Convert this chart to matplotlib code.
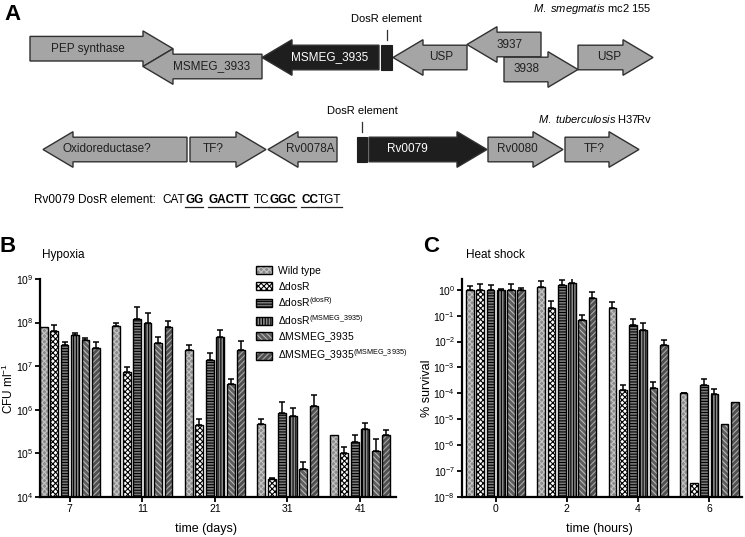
import numpy as np
import matplotlib
matplotlib.use('Agg')
import matplotlib.pyplot as plt
from matplotlib.patches import Polygon, Rectangle
from matplotlib.legend_handler import HandlerTuple
from matplotlib.ticker import LogLocator, NullLocator

plt.rcParams['font.family'] = ['Liberation Sans', 'DejaVu Sans']
plt.rcParams['mathtext.fontset'] = 'custom'
plt.rcParams['mathtext.rm'] = 'Liberation Sans'
plt.rcParams['mathtext.it'] = 'Liberation Sans:italic'
plt.rcParams['mathtext.bf'] = 'Liberation Sans:bold'
plt.rcParams['hatch.linewidth'] = 0.8

# ---------------- panel A data (gene maps, pixel-like units) ----------------
smeg_genes = ['PEP synthase', 'MSMEG_3933', 'MSMEG_3935', 'USP', '3937', '3938', 'USP']
smeg_start = [30, 143, 262, 393, 467, 504, 578]
smeg_end = [173, 262, 379, 467, 541, 578, 653]
smeg_strand = [1, -1, -1, -1, -1, 1, 1]
smeg_row = [48.7, 66.5, 57.5, 57.5, 44.5, 69.5, 57.5]
smeg_dark = [False, False, True, False, False, False, False]
smeg_label_x = [88, 212, 330, 441, 510, 527, 609]
smeg_box = (381, 392, 57.5)

tb_genes = ['Oxidoreductase?', 'TF?', 'Rv0078A', 'Rv0079', 'Rv0080', 'TF?']
tb_start = [43, 190, 268, 369, 488, 565]
tb_end = [187, 266, 337, 487, 563, 639]
tb_strand = [-1, 1, -1, 1, 1, 1]
tb_row = 149.5
tb_dark = [False, False, False, True, False, False]
tb_label_x = [107, 213, 310, 407, 517, 594]
tb_box = (357, 367, 149.5)

# sequence pieces: text, bold, underlined
seq_pieces = [('CAT', False, False), ('GG', True, True), (' ', False, False),
              ('GACTT', True, True), (' ', False, False),
              ('TC', False, True), ('GGC', True, True), (' ', False, False),
              ('CC', True, True), ('TGT', False, True)]

# ---------------- panel B data: hypoxia ----------------
strains = ['Wild type', r'$\Delta$dosR', r'$\Delta$dosR$^{\mathrm{(dosR)}}$',
           r'$\Delta$dosR$^{\mathrm{(MSMEG\_3935)}}$', r'$\Delta$MSMEG_3935',
           r'$\Delta$MSMEG_3935$^{\mathrm{(MSMEG\_3935)}}$']
days = ['7', '11', '21', '31', '41']
hyp_wt = [8.1e7, 8.3e7, 2.3e7, 4.8e5, 2.7e5]
hyp_dosr = [6.5e7, 7.2e6, 4.6e5, 2.6e4, 1.0e5]
hyp_dosr_c = [3.1e7, 1.2e8, 1.4e7, 8.3e5, 1.8e5]
hyp_dosr_ms = [5.2e7, 1.0e8, 4.7e7, 7.1e5, 3.6e5]
hyp_ms = [4.0e7, 3.4e7, 4.0e6, 4.5e4, 1.15e5]
hyp_ms_c = [2.6e7, 7.8e7, 2.3e7, 1.2e6, 2.6e5]
# top of the error bar (nan = none drawn)
hyp_wt_top = [np.nan, 9.8e7, 3.0e7, 6.2e5, np.nan]
hyp_dosr_top = [8.7e7, 9.8e6, 6.2e5, 2.8e4, 1.4e5]
hyp_dosr_c_top = [3.5e7, 2.3e8, 2.0e7, 1.5e6, 2.7e5]
hyp_dosr_ms_top = [5.9e7, 1.7e8, 6.6e7, 1.1e6, 5.1e5]
hyp_ms_top = [4.5e7, 4.6e7, 5.1e6, 6.3e4, 2.1e5]
hyp_ms_c_top = [3.5e7, 1.07e8, 3.8e7, 2.2e6, 3.4e5]

# ---------------- panel C data: heat shock ----------------
hours = ['0', '2', '4', '6']
hs_wt = [1.0, 1.26, 0.2, 1.0e-4]
hs_dosr = [1.0, 0.19, 1.35e-4, 3.5e-8]
hs_dosr_c = [1.0, 1.5, 0.043, 2.1e-4]
hs_dosr_ms = [1.0, 1.9, 0.028, 9.4e-5]
hs_ms = [1.0, 0.069, 1.6e-4, 6.5e-6]
hs_ms_c = [1.0, 0.46, 7.4e-3, 4.8e-5]
hs_wt_top = [1.41, 2.24, 0.35, 1.05e-4]
hs_dosr_top = [1.66, 0.37, 2.2e-4, np.nan]
hs_dosr_c_top = [1.48, 2.3, 0.074, 3.5e-4]
hs_dosr_ms_top = [1.07, 2.8, 0.051, 1.5e-4]
hs_ms_top = [1.66, 0.107, 2.8e-4, np.nan]
hs_ms_c_top = [1.16, 0.83, 1.1e-2, np.nan]

# bar styles per strain: face, hatch colour, hatch
faces = ['#8c8c8c', 'white', '#7a7a7a', '#8a8a8a', '#5e5e5e', '#505050']
hatch_cols = ['#c4c4c4', 'black', 'black', 'black', '#b8b8b8', '#a8a8a8']
hatches = ['xxxxxx', 'xxxxxx', '------', '||||||', '\\\\\\\\\\\\', '//////']

W, H = 745, 537
fig = plt.figure(figsize=(W / 100, H / 100), dpi=100)

# ---------------- panel A ----------------
ax0 = fig.add_axes([0, 0, 1, 1])
ax0.set_xlim(0, W)
ax0.set_ylim(H, 0)
ax0.axis('off')


def gene(x0, x1, yc, strand, dark, L=30, h=12.3, hh=17.8):
    if strand == 1:
        pts = [(x0, yc - h), (x1 - L, yc - h), (x1 - L, yc - hh), (x1, yc),
               (x1 - L, yc + hh), (x1 - L, yc + h), (x0, yc + h)]
    else:
        pts = [(x1, yc - h), (x0 + L, yc - h), (x0 + L, yc - hh), (x0, yc),
               (x0 + L, yc + hh), (x0 + L, yc + h), (x1, yc + h)]
    fc = '#1e1e1e' if dark else '#a5a5a5'
    ax0.add_patch(Polygon(pts, closed=True, fc=fc, ec='#303030', lw=1.0))


for i in range(len(smeg_genes)):
    gene(smeg_start[i], smeg_end[i], smeg_row[i], smeg_strand[i], smeg_dark[i])
    ax0.text(smeg_label_x[i], smeg_row[i], smeg_genes[i], ha='center', va='center',
             fontsize=8.5, color='white' if smeg_dark[i] else '#202020')
for i in range(len(tb_genes)):
    gene(tb_start[i], tb_end[i], tb_row, tb_strand[i], tb_dark[i])
    ax0.text(tb_label_x[i], tb_row, tb_genes[i], ha='center', va='center',
             fontsize=8.5, color='white' if tb_dark[i] else '#202020')

for bx0, bx1, by in [smeg_box, tb_box]:
    ax0.add_patch(Rectangle((bx0, by - 12.3), bx1 - bx0, 24.6, fc='#1e1e1e', ec='#1e1e1e', lw=0.8))
    xm = (bx0 + bx1) / 2
    ax0.plot([xm, xm], [by - 28, by - 18], color='#303030', lw=0.9)
    ax0.text(xm, by - 33, 'DosR element', ha='center', va='bottom', fontsize=8)

ax0.text(651, 9, r'$\it{M.\ smegmatis}$ mc2 155', ha='right', va='center', fontsize=8)
ax0.text(652, 119, r'$\it{M.\ tuberculosis}$ H37Rv', ha='right', va='center', fontsize=8)
ax0.text(4, 4, 'A', fontsize=16, fontweight='bold', va='top', ha='left')

# sequence line with bold / underlined letters
renderer = fig.canvas.get_renderer()
sx, sy = 34, 203
t = ax0.text(sx, sy, 'Rv0079 DosR element:  ', fontsize=8.5, va='baseline', ha='left')
sx += t.get_window_extent(renderer).width
for txt, bold, under in seq_pieces:
    t = ax0.text(sx, sy, txt, fontsize=8.5, va='baseline', ha='left',
                 fontweight='bold' if bold else 'normal')
    w = t.get_window_extent(renderer).width
    if txt == ' ':
        w = 5
    if under:
        ax0.plot([sx, sx + w], [sy + 3.5, sy + 3.5], color='#202020', lw=0.9)
    sx += w


# ---------------- panels B and C ----------------
def bars(ax, series, tops, ymin):
    n = len(series[0])
    pos = np.arange(n)
    slot, width = 0.144, 0.108
    for i, (vals, top) in enumerate(zip(series, tops)):
        vals = np.array(vals)
        top = np.array(top)
        x = pos + (i - 2.5) * slot
        ax.bar(x, vals - ymin, width, bottom=ymin, color=faces[i], hatch=hatches[i],
               edgecolor=hatch_cols[i], linewidth=0, zorder=2)
        ax.bar(x, vals - ymin, width, bottom=ymin, facecolor='none',
               edgecolor='black', linewidth=1.0, zorder=3)
        ok = ~np.isnan(top)
        ax.errorbar(x[ok], vals[ok], yerr=[np.zeros(ok.sum()), top[ok] - vals[ok]],
                    fmt='none', ecolor='black', elinewidth=1.1, capsize=2.2,
                    capthick=1.1, zorder=4)
    ax.set_xticks(pos)
    for s in ['top', 'right']:
        ax.spines[s].set_visible(False)
    for s in ['left', 'bottom']:
        ax.spines[s].set_linewidth(1.6)
    ax.yaxis.set_major_locator(LogLocator(base=10, numticks=20))
    ax.yaxis.set_minor_locator(NullLocator())
    ax.tick_params(axis='both', labelsize=7.5, width=1.3, length=3.5, direction='out', pad=1.5)


axB = fig.add_axes([40 / W, 1 - 497 / H, (396 - 40) / W, (497 - 279) / H])
axB.set_yscale('log')
axB.set_ylim(1e4, 1e9)
axB.set_xlim(-0.41, 4.495)
bars(axB, [hyp_wt, hyp_dosr, hyp_dosr_c, hyp_dosr_ms, hyp_ms, hyp_ms_c],
     [hyp_wt_top, hyp_dosr_top, hyp_dosr_c_top, hyp_dosr_ms_top, hyp_ms_top, hyp_ms_c_top], 1e4)
axB.set_xticklabels(days)
axB.set_xlabel('time (days)', fontsize=9)
axB.xaxis.set_label_coords(0.465, -0.118)
axB.set_ylabel(r'CFU ml$^{\mathrm{-1}}$', fontsize=8.5)
axB.yaxis.set_label_coords(-0.068, 0.5)

axC = fig.add_axes([462 / W, 1 - 497 / H, (742 - 462) / W, (497 - 279) / H])
axC.set_yscale('log')
axC.set_ylim(1e-8, 2.6)
axC.set_xlim(-0.473, 3.46)
bars(axC, [hs_wt, hs_dosr, hs_dosr_c, hs_dosr_ms, hs_ms, hs_ms_c],
     [hs_wt_top, hs_dosr_top, hs_dosr_c_top, hs_dosr_ms_top, hs_ms_top, hs_ms_c_top], 1e-8)
axC.set_xticklabels(hours)
axC.set_xlabel('time (hours)', fontsize=9)
axC.xaxis.set_label_coords(0.49, -0.118)
axC.set_ylabel('% survival', fontsize=9)
axC.yaxis.set_label_coords(-0.105, 0.5)

ax0.text(8, 247, 'B', fontsize=16, fontweight='bold', va='center', ha='center')
ax0.text(42, 255, 'Hypoxia', fontsize=8.5, va='center', ha='left')
ax0.text(431, 247, 'C', fontsize=16, fontweight='bold', va='center', ha='center')
ax0.text(466, 255, 'Heat shock', fontsize=8.5, va='center', ha='left')

# legend with hatch + black outline overlay
handles = []
for i in range(6):
    p1 = Rectangle((0, 0), 1, 1, fc=faces[i], hatch=hatches[i], ec=hatch_cols[i], lw=0)
    p2 = Rectangle((0, 0), 1, 1, fc='none', ec='black', lw=1.0)
    handles.append((p1, p2))
fig.legend(handles, strains, handler_map={tuple: HandlerTuple(ndivide=1)},
           loc='upper left', bbox_to_anchor=(256 / W, 1 - 266 / H), frameon=False,
           fontsize=7.5, handlelength=1.5, handleheight=0.8, labelspacing=0.35,
           handletextpad=0.6, borderaxespad=0, borderpad=0)

fig.savefig('out.png', dpi=100)
